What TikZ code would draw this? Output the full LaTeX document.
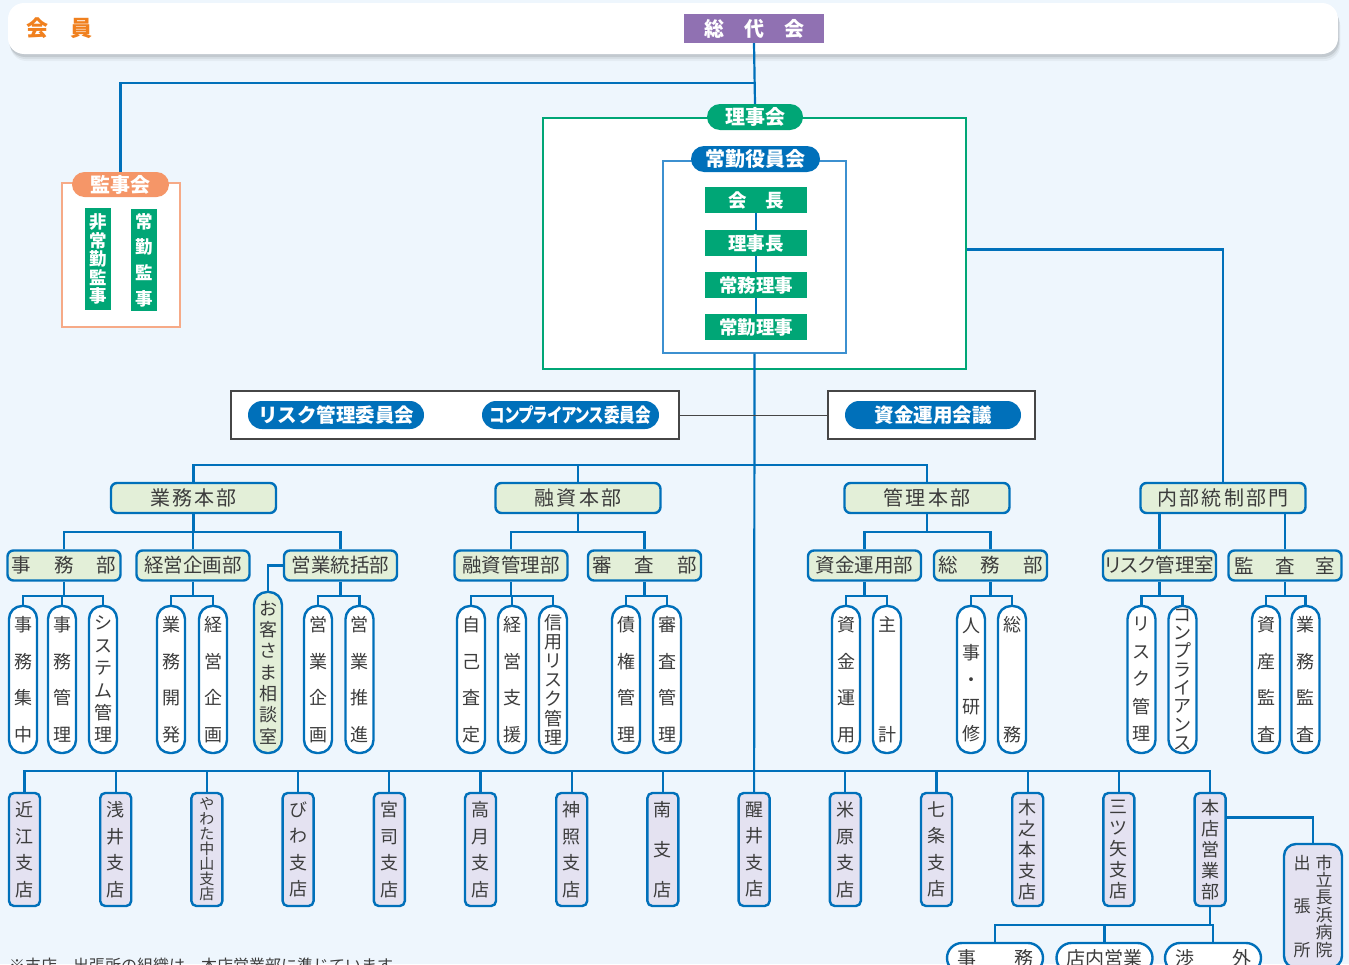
\documentclass[tikz,border=0pt]{standalone}
\usepackage{fontspec}
\usepackage{graphicx}
\setmainfont{Noto Sans CJK JP}
\newfontfamily\jpp{Noto Sans CJK JP}[RawFeature=+palt]
\usetikzlibrary{backgrounds}

\definecolor{bgblue}{RGB}{238,246,253}
\definecolor{lineblue}{RGB}{0,112,186}
\definecolor{yakuinline}{RGB}{60,144,208}
\definecolor{boxgreen}{RGB}{0,166,118}
\definecolor{hqfill}{RGB}{227,239,216}
\definecolor{brfill}{RGB}{228,226,241}
\definecolor{sodaipurple}{RGB}{144,113,178}
\definecolor{kanjiorange}{RGB}{245,150,104}
\definecolor{kanjiline}{RGB}{246,170,135}
\definecolor{memorange}{RGB}{240,128,30}
\definecolor{framegray}{RGB}{70,70,70}
\definecolor{txt}{RGB}{60,60,60}

% one column of upright characters
\newcommand\vcol[2]{\vbox{\baselineskip=#1\lineskiplimit=-50pt\lineskip=0pt\relax#2}}

\tikzset{
  conn/.style={draw=lineblue, line width=2.2pt},
  hq/.style={draw=lineblue, line width=2.4pt, fill=hqfill, rounded corners=6pt,
    minimum width=165pt, minimum height=30pt, inner sep=0pt, text=txt,
    font=\fontsize{20}{20}\selectfont},
  dept/.style={hq, minimum width=113pt, font=\fontsize{19.5}{19.5}\selectfont},
  sect/.style={draw=lineblue, line width=2.4pt, fill=white, rounded corners=13pt,
    minimum width=28pt, minimum height=147pt, inner sep=0pt, align=center, text=txt,
    font=\fontsize{18}{#1}\selectfont},
  sect/.default=36.6,
  brch/.style={draw=lineblue, line width=2.4pt, fill=brfill, rounded corners=5pt,
    minimum width=31pt, minimum height=113pt, inner sep=0pt, align=center, text=txt},
  gbox/.style={fill=boxgreen, text=white, inner sep=0pt,
    font=\bfseries\fontsize{18.5}{18.5}\selectfont},
  pill/.style={fill=#1, text=white, rounded corners=13pt, inner sep=0pt,
    minimum height=26pt, font=\bfseries\fontsize{20}{20}\selectfont},
  holder/.style={draw=#1, fill=white, inner sep=0pt},
  hpill/.style={draw=lineblue, line width=2.4pt, fill=white, rounded corners=15pt,
    minimum width=96pt, minimum height=30pt, inner sep=0pt, text=txt,
    font=\fontsize{19}{19}\selectfont},
}

\begin{document}
\begin{tikzpicture}[x=1pt,y=-1pt]
\useasboundingbox (0,0) rectangle (1349,964);
\clip (0,0) rectangle (1349,964);

% members and the general assembly
\node[text=memorange, inner sep=0pt, font=\bfseries\fontsize{22}{22}\selectfont] (member) at (60,28) {会　員};
\node[fill=sodaipurple, text=white, minimum width=140pt, minimum height=29pt, inner sep=0pt,
  font=\bfseries\fontsize{20}{20}\selectfont] (sodai) at (754,28.5) {総　代　会};
\coordinate (kj) at (754,83);

% audit board
\node[pill=kanjiorange, minimum width=97pt, minimum height=25pt, rounded corners=12.5pt] (kanji) at (120.5,184.5) {監事会};
\node[gbox, minimum width=26pt, minimum height=102pt, align=center,
  font=\bfseries\fontsize{17.5}{18.5}\selectfont] (hijokin) at (98,259) {非\\常\\勤\\監\\事};
\node[gbox, minimum width=26pt, minimum height=102pt, align=center,
  font=\bfseries\fontsize{17.5}{25.7}\selectfont] (jokin) at (144,260) {常\\勤\\監\\事};

% board of directors
\node[pill=boxgreen, minimum width=96pt] (riji) at (755,117) {理事会};
\node[pill=lineblue, minimum width=129pt] (yakuin) at (755.5,159) {常勤役員会};
\node[gbox, minimum width=102pt, minimum height=26pt] (kaicho) at (756,200) {会　長};
\node[gbox, minimum width=102pt, minimum height=26pt] (rijicho) at (756,243) {理事長};
\node[gbox, minimum width=102pt, minimum height=26pt] (jomu) at (756,285) {常務理事};
\node[gbox, minimum width=102pt, minimum height=26pt] (jokinriji) at (756,327) {常勤理事};

% committees
\node[pill=lineblue, minimum width=176pt, minimum height=28pt, rounded corners=14pt,
  font=\bfseries\fontsize{19.5}{19.5}\selectfont] (riskc) at (336,415) {リスク管理委員会};
\node[pill=lineblue, minimum width=177pt, minimum height=28pt, rounded corners=14pt,
  font=\jpp\bfseries\fontsize{19.5}{19.5}\selectfont] (compc) at (570.5,415) {\scalebox{0.8}[1]{コンプライアンス委員会}};
\node[pill=lineblue, minimum width=176pt, minimum height=28pt, rounded corners=14pt,
  font=\bfseries\fontsize{19.5}{19.5}\selectfont] (fundc) at (933,415) {資金運用会議};

% head offices
\node[hq] (gyomu) at (193.5,498) {業\hspace{2.3pt}務\hspace{2.3pt}本\hspace{2.3pt}部};
\node[hq] (yushi) at (578,498) {融\hspace{2.3pt}資\hspace{2.3pt}本\hspace{2.3pt}部};
\node[hq] (kanri) at (927,498) {管\hspace{2.3pt}理\hspace{2.3pt}本\hspace{2.3pt}部};
\node[hq] (naibu) at (1223,498) {内\hspace{2.3pt}部\hspace{2.3pt}統\hspace{2.3pt}制\hspace{2.3pt}部\hspace{2.3pt}門};

% departments
\node[dept] (jimu) at (64,565.5) {事\hspace{23pt}務\hspace{23pt}部};
\node[dept] (keikaku) at (193,565.5) {経営企画部};
\node[dept] (tokatsu) at (340.5,565.5) {営業統括部};
\node[dept] (yukan) at (511,565.5) {融資管理部};
\node[dept] (shinsa) at (644.5,565.5) {審\hspace{23pt}査\hspace{23pt}部};
\node[dept] (shikin) at (864.5,565.5) {資金運用部};
\node[dept] (somu) at (990.5,565.5) {総\hspace{23pt}務\hspace{23pt}部};
\node[dept, font=\jpp\fontsize{19.5}{19.5}\selectfont] (risk) at (1159.5,565.5) {リスク管理室};
\node[dept] (kansa) at (1285,565.5) {監\hspace{21pt}査\hspace{21pt}室};

% sections
\node[sect] (s11) at (23,679.5) {事\\務\\集\\中};
\node[sect] (s12) at (62,679.5) {事\\務\\管\\理};
\node[sect=22.4] (s13) at (103,679.5) {シ\\ス\\テ\\ム\\管\\理};
\node[sect] (s21) at (171,679.5) {業\\務\\開\\発};
\node[sect] (s22) at (213,679.5) {経\\営\\企\\画};
\node[sect=21.3, minimum height=161pt, fill=hqfill] (sodan) at (268,672.5) {お\\客\\さ\\ま\\相\\談\\室};
\node[sect] (s31) at (318,679.5) {営\\業\\企\\画};
\node[sect] (s32) at (359.5,679.5) {営\\業\\推\\進};
\node[sect] (s41) at (471,679.5) {自\\己\\査\\定};
\node[sect] (s42) at (512,679.5) {経\\営\\支\\援};
\node[sect=19.2] (s43) at (553,679.5) {信\\用\\リ\\ス\\ク\\管\\理};
\node[sect] (s51) at (626,679.5) {債\\権\\管\\理};
\node[sect] (s52) at (667,679.5) {審\\査\\管\\理};
\node[sect] (s61) at (846,679.5) {資\\金\\運\\用};
\node[sect] (s62) at (887,679.5) {主\\[73pt]計};
\node[sect=27] (s71) at (971,679.5) {人\\事\\・\\研\\修};
\node[sect] (s72) at (1012,679.5) {総\\[73pt]務};
\node[sect=27.5] (s81) at (1141.5,679.5) {リ\\ス\\ク\\管\\理};
\node[sect=18.3] (s82) at (1182.5,679.5) {コ\\ン\\プ\\ラ\\イ\\ア\\ン\\ス};
\node[sect] (s91) at (1266,679.5) {資\\産\\監\\査};
\node[sect] (s92) at (1305.5,679.5) {業\\務\\監\\査};

% branches
\foreach \i/\fs/\sk/\nm in {
  1/18/26.5/{近\\江\\支\\店},
  2/18/26.5/{浅\\井\\支\\店},
  3/15/15/{や\\わ\\た\\中\\山\\支\\店},
  4/18/26.5/{び\\わ\\支\\店},
  5/18/26.5/{宮\\司\\支\\店},
  6/18/26.5/{高\\月\\支\\店},
  7/18/26.5/{神\\照\\支\\店},
  8/18/40/{南\\支\\店},
  9/18/26.5/{醒\\井\\支\\店},
  10/18/26.5/{米\\原\\支\\店},
  11/18/26.5/{七\\条\\支\\店},
  12/18/21/{木\\之\\本\\支\\店},
  13/18/21/{三\\ツ\\矢\\支\\店},
  14/18/21/{本\\店\\営\\業\\部}}
  \node[brch, font=\fontsize{\fs}{\sk}\selectfont] (br\i) at ({24.5+91.2*(\i-1)},849.5) {\nm};

% the sub-office and the main branch sections
\node[brch, minimum width=58pt, minimum height=124pt, rounded corners=12pt,
  font=\fontsize{17}{17}\selectfont] (shucho) at (1313,906)
  {\vcol{43.5pt}{\hbox{出}\hbox{張}\hbox{所}}\hspace{5pt}\vcol{17.4pt}{\hbox{市}\hbox{立}\hbox{長}\hbox{浜}\hbox{病}\hbox{院}}};
\node[hpill] (hjimu) at (995,958) {事\hspace{38pt}務};
\node[hpill] (tennai) at (1104.5,958) {店内営業};
\node[hpill] (shogai) at (1213,958) {渉\hspace{38pt}外};

\node[anchor=west, inner sep=0pt, text=txt, font=\fontsize{16}{16}\selectfont] (note) at (9,965)
  {※支店、出張所の組織は、本店営業部に準じています。};

\begin{scope}[on background layer]
\fill[bgblue] (0,0) rectangle (1349,964);
% banner with a soft shadow
\foreach \s/\o in {7/.04,5/.06,3/.09}
  \fill[black, opacity=\o, rounded corners=16pt] (8+\s/3,3+\s) rectangle (1338+\s/3,54+\s);
\fill[white, rounded corners=16pt] (8,3) rectangle (1338,54);
% frames
\node[holder=kanjiline, line width=1.5pt, minimum width=118pt, minimum height=144pt] (kanjibox) at (121,255) {};
\node[holder=boxgreen, line width=1.3pt, minimum width=423pt, minimum height=251pt] (rijibox) at (754.5,243.5) {};
\node[holder=yakuinline, line width=1.3pt, minimum width=183pt, minimum height=192pt] (yakuinbox) at (754.5,257) {};
\node[holder=framegray, line width=1.2pt, minimum width=448pt, minimum height=48pt] (commL) at (455,415) {};
\node[holder=framegray, line width=1.2pt, minimum width=207pt, minimum height=48pt] (commR) at (931.5,415) {};

% top connectors
\draw[conn] (sodai.south) -- (riji.north);
\draw[conn] (kanji.north) |- (kj);
\draw[conn] (kaicho.south) -- (jokinriji.north);
\draw[conn] (yakuinbox.south) -- (br9.north);
\draw[conn] ([yshift=-6pt]rijibox.east) -| (naibu.north);
\draw[framegray, line width=1pt] (commL.east) -- (commR.west);

% head offices
\draw[conn] (gyomu.north) -- ++(0,-17) -| (kanri.north);
\draw[conn] (yushi.north) -- ++(0,-17);

% departments
\draw[conn] (gyomu.south) -- ++(0,18) -| (jimu.north)
  (gyomu.south) ++(0,18) -| (keikaku.north) (gyomu.south) ++(0,18) -| (tokatsu.north);
\draw[conn] (yushi.south) -- ++(0,18) -| (yukan.north) (yushi.south) ++(0,18) -| (shinsa.north);
\draw[conn] (kanri.south) -- ++(0,18) -| (shikin.north) (kanri.south) ++(0,18) -| (somu.north);
\draw[conn] (risk.north) -- (risk.north |- naibu.south);
\draw[conn] (kansa.north) -- (kansa.north |- naibu.south);

% sections
\draw[conn] (jimu.south) -- ++(0,14) -| (s11.north) (jimu.south) ++(0,14) -| (s12.north)
  (jimu.south) ++(0,14) -| (s13.north);
\draw[conn] (keikaku.south) -- ++(0,14) -| (s21.north) (keikaku.south) ++(0,14) -| (s22.north);
\draw[conn] (tokatsu.south) -- ++(0,14) -| (s31.north) (tokatsu.south) ++(0,14) -| (s32.north);
\draw[conn] (tokatsu.west) -| (sodan.north);
\draw[conn] (yukan.south) -- ++(0,14) -| (s41.north) (yukan.south) ++(0,14) -| (s42.north)
  (yukan.south) ++(0,14) -| (s43.north);
\draw[conn] (shinsa.south) -- ++(0,14) -| (s51.north) (shinsa.south) ++(0,14) -| (s52.north);
\draw[conn] (shikin.south) -- ++(0,14) -| (s61.north) (shikin.south) ++(0,14) -| (s62.north);
\draw[conn] (somu.south) -- ++(0,14) -| (s71.north) (somu.south) ++(0,14) -| (s72.north);
\draw[conn] (risk.south) -- ++(0,14) -| (s81.north) (risk.south) ++(0,14) -| (s82.north);
\draw[conn] (kansa.south) -- ++(0,14) -| (s91.north) (kansa.south) ++(0,14) -| (s92.north);

% branch line
\draw[conn] (br1.north) -- ++(0,-21) -| (br14.north);
\foreach \i in {2,...,13}
  \draw[conn] (br\i.north) -- ++(0,-21);
\draw[conn] ([yshift=32pt]br14.east) -| (shucho.north);
\draw[conn] (br14.south) -- ++(0,18) -| (hjimu.north) (br14.south) ++(0,18) -| (tennai.north)
  (br14.south) ++(0,18) -| (shogai.north);
\end{scope}
\end{tikzpicture}
\end{document}
